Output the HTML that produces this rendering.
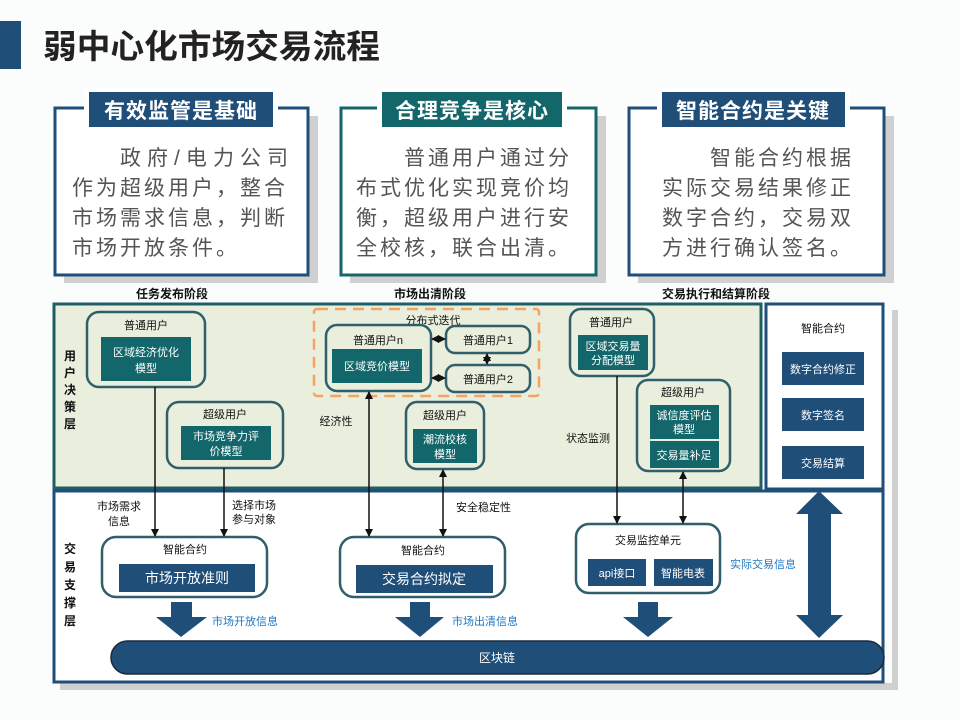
<!DOCTYPE html>
<html><head><meta charset="utf-8"><style>
html,body{margin:0;padding:0;background:#fbfcfc;}
svg{display:block;font-family:"Liberation Sans","Noto Sans CJK SC",sans-serif;}
</style></head><body>
<svg width="960" height="720" viewBox="0 0 960 720" xmlns="http://www.w3.org/2000/svg">
<defs>
<marker id="ah" markerWidth="8" markerHeight="8" refX="7" refY="4" orient="auto-start-reverse" markerUnits="userSpaceOnUse"><path d="M0,0 L8,4 L0,8 Z" fill="#111"/></marker>
</defs>
<rect x="0" y="0" width="960" height="720" fill="#fbfcfc"/>
<!-- title -->
<rect x="0" y="21" width="21" height="48" fill="#1f4e79"/>
<text x="43" y="58" font-size="33" font-weight="bold" fill="#222" textLength="337" lengthAdjust="spacingAndGlyphs">弱中心化市场交易流程</text>

<!-- cards -->
<g font-size="21" fill="#555" letter-spacing="3">
<rect x="64" y="116" width="254" height="167" fill="#d0d0d0"/>
<rect x="55" y="108" width="253" height="167" fill="#fff" stroke="#1f4e79" stroke-width="3"/>
<rect x="84" y="88" width="194" height="44" fill="#fff"/>
<rect x="89" y="92" width="184" height="35" fill="#1f4e79"/>
<text x="181" y="118" font-size="21" font-weight="bold" fill="#fff" text-anchor="middle" letter-spacing="1">有效监管是基础</text>
<text x="120" y="165" textLength="168" letter-spacing="0">政府/电力公司</text>
<text x="72" y="195">作为超级用户，整合</text>
<text x="72" y="225">市场需求信息，判断</text>
<text x="72" y="255">市场开放条件。</text>

<rect x="350" y="116" width="256" height="167" fill="#d0d0d0"/>
<rect x="341" y="108" width="255" height="167" fill="#fff" stroke="#13676a" stroke-width="3"/>
<rect x="377" y="88" width="190" height="44" fill="#fff"/>
<rect x="382" y="92" width="180" height="35" fill="#13676a"/>
<text x="472" y="118" font-size="21" font-weight="bold" fill="#fff" text-anchor="middle" letter-spacing="1">合理竞争是核心</text>
<text x="404" y="165">普通用户通过分</text>
<text x="356" y="195">布式优化实现竞价均</text>
<text x="356" y="225">衡，超级用户进行安</text>
<text x="356" y="255">全校核，联合出清。</text>

<rect x="638" y="116" width="256" height="167" fill="#d0d0d0"/>
<rect x="629" y="108" width="255" height="167" fill="#fff" stroke="#1f4e79" stroke-width="3"/>
<rect x="657" y="88" width="193" height="44" fill="#fff"/>
<rect x="662" y="92" width="183" height="35" fill="#1f4e79"/>
<text x="753" y="118" font-size="21" font-weight="bold" fill="#fff" text-anchor="middle" letter-spacing="1">智能合约是关键</text>
<text x="710" y="165">智能合约根据</text>
<text x="662" y="195">实际交易结果修正</text>
<text x="662" y="225">数字合约，交易双</text>
<text x="662" y="255">方进行确认签名。</text>
</g>

<!-- stage labels -->
<g font-size="12" font-weight="bold" fill="#111" text-anchor="middle">
<text x="172" y="298">任务发布阶段</text>
<text x="430" y="298">市场出清阶段</text>
<text x="716" y="298">交易执行和结算阶段</text>
</g>

<!-- panels -->
<rect x="892" y="310" width="6" height="380" fill="#d0d0d0"/>
<rect x="60" y="683" width="838" height="7" fill="#d0d0d0"/>
<rect x="54" y="491" width="829" height="191" fill="#fff" stroke="#1f4e79" stroke-width="3"/>
<rect x="54" y="304" width="707" height="184" fill="#e9efdc" stroke="#1e5f63" stroke-width="3"/>
<rect x="766" y="304" width="117" height="185" fill="#fff" stroke="#1f4e79" stroke-width="3"/>

<!-- side labels -->
<g font-size="12" font-weight="bold" fill="#111" text-anchor="middle">
<text x="70" y="360">用</text><text x="70" y="377">户</text><text x="70" y="394">决</text><text x="70" y="411">策</text><text x="70" y="428">层</text>
<text x="70" y="553">交</text><text x="70" y="571">易</text><text x="70" y="589">支</text><text x="70" y="607">撑</text><text x="70" y="625">层</text>
</g>

<!-- dashed group -->
<rect x="314" y="309" width="225" height="87" rx="3" fill="none" stroke="#f4a460" stroke-width="2.5" stroke-dasharray="11,7"/>
<text x="433" y="324" font-size="11" fill="#111" text-anchor="middle">分布式迭代</text>

<g stroke="#2f5f6a" stroke-width="2.5" fill="#e9efdc">
<rect x="87" y="312" width="118" height="75" rx="12"/>
<rect x="167" y="402" width="116" height="66" rx="12"/>
<rect x="326" y="325" width="105" height="66" rx="11"/>
<rect x="446" y="326" width="84" height="27" rx="9"/>
<rect x="446" y="365" width="84" height="27" rx="9"/>
<rect x="406" y="402" width="78" height="67" rx="11"/>
<rect x="570" y="309" width="84" height="67" rx="11"/>
<rect x="637" y="380" width="93" height="91" rx="11"/>
</g>
<g fill="#13676a">
<rect x="101" y="337" width="90" height="44"/>
<rect x="181" y="426" width="90" height="34"/>
<rect x="332" y="349" width="90" height="34"/>
<rect x="413" y="429" width="64" height="34"/>
<rect x="578" y="335" width="70" height="35"/>
<rect x="650" y="405" width="69" height="34"/>
<rect x="650" y="441" width="69" height="27"/>
</g>
<g font-size="11" fill="#111" text-anchor="middle">
<text x="146" y="329">普通用户</text>
<text x="225" y="418">超级用户</text>
<text x="378" y="344">普通用户n</text>
<text x="488" y="344">普通用户1</text>
<text x="488" y="383">普通用户2</text>
<text x="445" y="419">超级用户</text>
<text x="611" y="326">普通用户</text>
<text x="683" y="396">超级用户</text>
<text x="336" y="425">经济性</text>
<text x="588" y="442">状态监测</text>
<text x="823" y="332">智能合约</text>
</g>
<g font-size="11" fill="#fff" text-anchor="middle">
<text x="146" y="356">区域经济优化</text><text x="146" y="372">模型</text>
<text x="226" y="440">市场竞争力评</text><text x="226" y="455">价模型</text>
<text x="377" y="370">区域竞价模型</text>
<text x="445" y="443">潮流校核</text><text x="445" y="458">模型</text>
<text x="613" y="350">区域交易量</text><text x="613" y="364">分配模型</text>
<text x="684" y="419">诚信度评估</text><text x="684" y="433">模型</text>
<text x="684" y="459">交易量补足</text>
</g>
<g fill="#1f4e79">
<rect x="782" y="352" width="82" height="33"/>
<rect x="782" y="398" width="82" height="33"/>
<rect x="782" y="446" width="82" height="33"/>
</g>
<g font-size="11" fill="#fff" text-anchor="middle">
<text x="823" y="373">数字合约修正</text>
<text x="823" y="419">数字签名</text>
<text x="823" y="467">交易结算</text>
</g>

<!-- lower nodes -->
<g stroke="#2f5f6a" stroke-width="2.5" fill="#fff">
<rect x="102" y="537" width="165" height="60" rx="14"/>
<rect x="340" y="537" width="165" height="60" rx="14"/>
<rect x="576" y="524" width="144" height="69" rx="13"/>
</g>
<g fill="#1f4e79">
<rect x="119" y="564" width="136" height="28"/>
<rect x="356" y="565" width="137" height="28"/>
<rect x="588" y="559" width="58" height="27"/>
<rect x="654" y="559" width="59" height="27"/>
</g>
<g font-size="11" fill="#111" text-anchor="middle">
<text x="185" y="553">智能合约</text>
<text x="423" y="554">智能合约</text>
<text x="648" y="544">交易监控单元</text>
<text x="119" y="510">市场需求</text><text x="119" y="525">信息</text>
<text x="232" y="509" text-anchor="start">选择市场</text><text x="232" y="523" text-anchor="start">参与对象</text>
<text x="456" y="511" text-anchor="start">安全稳定性</text>
</g>
<g fill="#fff" text-anchor="middle">
<text x="187" y="583" font-size="14">市场开放准则</text>
<text x="424" y="584" font-size="14">交易合约拟定</text>
<text x="617" y="577" font-size="11">api接口</text>
<text x="683" y="577" font-size="11">智能电表</text>
</g>

<!-- connectors -->
<g stroke="#111" stroke-width="1.5" fill="none">
<line x1="155" y1="387" x2="155" y2="536" marker-end="url(#ah)"/>
<line x1="224" y1="468" x2="224" y2="536" marker-end="url(#ah)"/>
<line x1="369" y1="392" x2="369" y2="536" marker-start="url(#ah)" marker-end="url(#ah)"/>
<line x1="443" y1="470" x2="443" y2="536" marker-start="url(#ah)" marker-end="url(#ah)"/>
<line x1="617" y1="376" x2="617" y2="523" marker-end="url(#ah)"/>
<line x1="683" y1="472" x2="683" y2="523" marker-start="url(#ah)" marker-end="url(#ah)"/>
<line x1="432" y1="339" x2="445" y2="339" marker-start="url(#ah)" marker-end="url(#ah)"/>
<line x1="432" y1="378" x2="445" y2="378" marker-start="url(#ah)" marker-end="url(#ah)"/>
<line x1="487" y1="354" x2="487" y2="364" marker-start="url(#ah)" marker-end="url(#ah)"/>
</g>

<!-- block arrows -->
<g fill="#1f4e79">
<polygon points="171,602 192,602 192,617 207,617 181,637 156,617 171,617"/>
<polygon points="410,602 430,602 430,617 444,617 420,637 395,617 410,617"/>
<polygon points="638,602 658,602 658,617 673,617 648,637 623,617 638,617"/>
<polygon points="819,491 843,514 831,514 831,615 843,615 819,638 796,615 808,615 808,514 796,514"/>
</g>
<g font-size="11" fill="#1f77c4">
<text x="212" y="625">市场开放信息</text>
<text x="452" y="625">市场出清信息</text>
<text x="730" y="568">实际交易信息</text>
</g>

<!-- blockchain -->
<rect x="111" y="641" width="773" height="33" rx="16.5" fill="#1f4e79" stroke="#1a2a3a" stroke-width="1.5"/>
<text x="497" y="662" font-size="12" fill="#fff" text-anchor="middle">区块链</text>
</svg>
</body></html>
